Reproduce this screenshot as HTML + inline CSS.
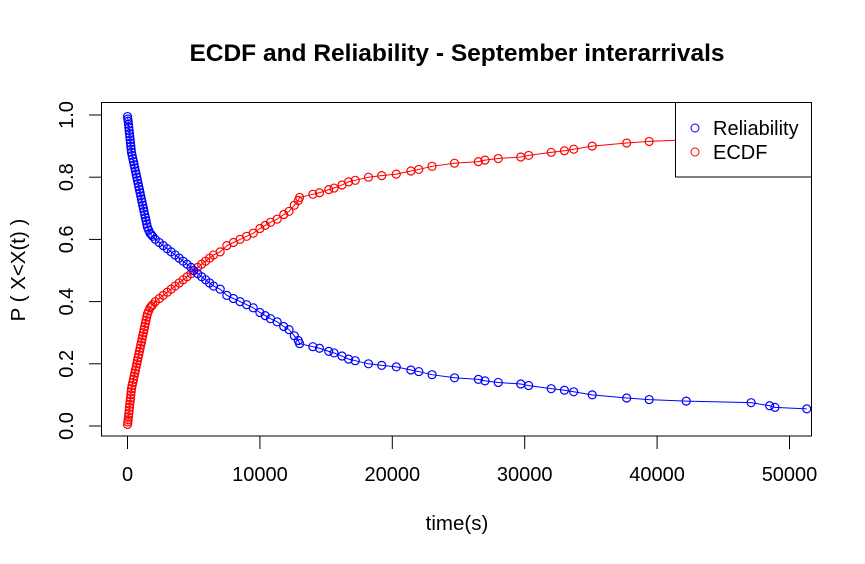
<!DOCTYPE html>
<html><head><meta charset="utf-8"><style>body{margin:0;background:#fff}svg{display:block;font-family:"Liberation Sans",Arial,sans-serif}</style></head>
<body>
<svg id="chart" width="865" height="564">
<text x="457" y="61" text-anchor="middle" font-size="24.5" font-weight="bold">ECDF and Reliability - September interarrivals</text>
<text x="457" y="530" text-anchor="middle" font-size="20.5">time(s)</text>
<text transform="translate(25,270) rotate(-90)" text-anchor="middle" font-size="20.5">P ( X&lt;X(t) )</text>
<g id="series"></g>
<rect x="101.5" y="102.5" width="710" height="333.5" fill="none" stroke="#000"/>
<g id="axes"></g>
<g>
<rect x="675.5" y="102.5" width="136" height="74.5" fill="#fff" stroke="#000"/>
<circle cx="695" cy="128" r="4" fill="none" stroke="#00f"/>
<text x="713" y="135" font-size="20">Reliability</text>
<circle cx="695" cy="152" r="4" fill="none" stroke="#f00"/>
<text x="713" y="159" font-size="20">ECDF</text>
</g>
</svg>
<script>
const times=[0,25,50,75,100,125,150,175,200,225,250,275,300,350,400,450,500,550,600,650,700,750,800,850,900,950,1000,1050,1100,1150,1200,1250,1300,1350,1400,1450,1500,1600,1700,1800,1900,2100,2400,2700,3000,3300,3600,3900,4200,4500,4800,5000,5300,5600,5900,6200,6500,7000,7500,8000,8500,9000,9500,10000,10400,10800,11300,11800,12200,12600,12900,13000,14000,14500,15200,15600,16200,16700,17200,18200,19200,20300,21400,22000,23000,24700,26500,27000,28000,29700,30300,32000,33000,33700,35100,37700,39400,42200,47100,48500,48900,51300];
const ecdf=[0.005,0.013,0.02,0.03,0.04,0.05,0.06,0.07,0.08,0.09,0.1,0.11,0.12,0.13,0.14,0.15,0.16,0.17,0.18,0.19,0.2,0.21,0.22,0.23,0.24,0.25,0.26,0.27,0.28,0.29,0.3,0.31,0.32,0.33,0.34,0.35,0.36,0.37,0.38,0.385,0.39,0.4,0.41,0.42,0.43,0.44,0.45,0.46,0.47,0.48,0.49,0.5,0.51,0.52,0.53,0.54,0.55,0.56,0.58,0.59,0.6,0.61,0.62,0.635,0.645,0.655,0.665,0.68,0.69,0.71,0.725,0.735,0.745,0.75,0.76,0.765,0.775,0.785,0.79,0.8,0.805,0.81,0.82,0.825,0.835,0.845,0.85,0.855,0.86,0.865,0.87,0.88,0.885,0.89,0.9,0.91,0.915,0.92,0.925,0.935,0.94,0.945];
const reliability=[0.995,0.987,0.98,0.97,0.96,0.95,0.94,0.93,0.92,0.91,0.9,0.89,0.88,0.87,0.86,0.85,0.84,0.83,0.82,0.81,0.8,0.79,0.78,0.77,0.76,0.75,0.74,0.73,0.72,0.71,0.7,0.69,0.68,0.67,0.66,0.65,0.64,0.63,0.62,0.615,0.61,0.6,0.59,0.58,0.57,0.56,0.55,0.54,0.53,0.52,0.51,0.5,0.49,0.48,0.47,0.46,0.45,0.44,0.42,0.41,0.4,0.39,0.38,0.365,0.355,0.345,0.335,0.32,0.31,0.29,0.275,0.265,0.255,0.25,0.24,0.235,0.225,0.215,0.21,0.2,0.195,0.19,0.18,0.175,0.165,0.155,0.15,0.145,0.14,0.135,0.13,0.12,0.115,0.11,0.1,0.09,0.085,0.08,0.075,0.065,0.06,0.055];
const xTicks=[0,10000,20000,30000,40000,50000];
const yTicks=[0,0.2,0.4,0.6,0.8,1.0];
const yTickLabels=["0.0","0.2","0.4","0.6","0.8","1.0"];
const NS="http://www.w3.org/2000/svg";
const xs=v=>127.5+v*(662/50000);
const ys=v=>426-v*311;
function mk(tag,attrs,parent){const e=document.createElementNS(NS,tag);for(const k in attrs)e.setAttribute(k,attrs[k]);parent.appendChild(e);return e;}
const g=document.getElementById('series');
function drawSeries(vals,color,name){
  const pl=mk('polyline',{points:times.map((t,i)=>xs(t)+','+ys(vals[i])).join(' '),fill:'none',stroke:color,'stroke-width':1},g);
  
  
  times.forEach((t,i)=>{
    const c=mk('circle',{cx:xs(t),cy:ys(vals[i]),r:4,fill:'none',stroke:color,'stroke-width':1.2},g);
    
    
  });
}
drawSeries(ecdf,'#f00','ecdf');
drawSeries(reliability,'#00f','reliability');
const a=document.getElementById('axes');
const xl=mk('line',{x1:xs(0),x2:xs(50000),y1:436,y2:436,stroke:'#000'},a);


xTicks.forEach(v=>{
  mk('line',{x1:xs(v),x2:xs(v),y1:436,y2:449,stroke:'#000'},a);
  const t=mk('text',{x:xs(v),y:481,'text-anchor':'middle','font-size':20},a);
  t.textContent=v;
  
  
});
yTicks.forEach((v,i)=>{
  mk('line',{x1:89,x2:101.5,y1:ys(v),y2:ys(v),stroke:'#000'},a);
  const t=mk('text',{transform:`translate(73,${ys(v)}) rotate(-90)`,'text-anchor':'middle','font-size':20},a);
  t.textContent=yTickLabels[i];
  
  
});
</script>
</body></html>
